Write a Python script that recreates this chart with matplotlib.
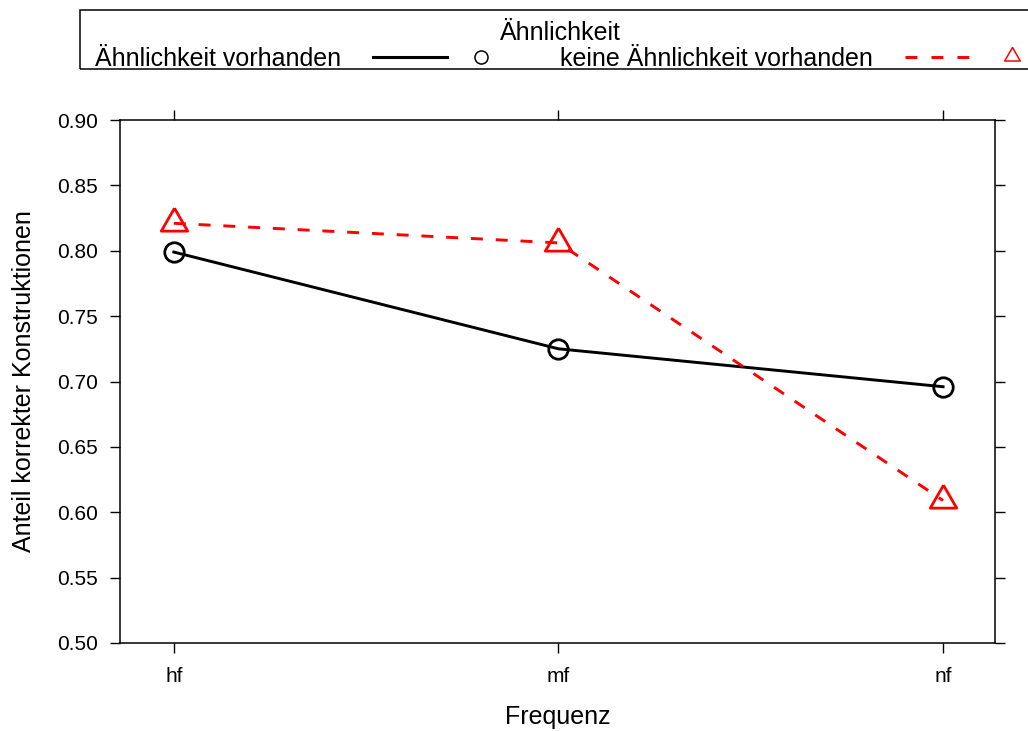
import matplotlib
matplotlib.use('Agg')
import matplotlib.pyplot as plt
from matplotlib.lines import Line2D

plt.rcParams['font.family'] = ['Liberation Sans', 'DejaVu Sans']

categories = ['hf', 'mf', 'nf']
similar = [0.799, 0.725, 0.696]        # Ähnlichkeit vorhanden
not_similar = [0.821, 0.806, 0.609]    # keine Ähnlichkeit vorhanden
yticks = [0.50, 0.55, 0.60, 0.65, 0.70, 0.75, 0.80, 0.85, 0.90]

# equilateral triangle like lattice pch=2
tri = [(0, 1), (-0.866, -0.5), (0.866, -0.5), (0, 1)]

fig = plt.figure(figsize=(10.28, 7.31), dpi=100)
ax = fig.add_axes([120 / 1028, 1 - 643 / 731, 875 / 1028, 523 / 731])

x = list(range(len(categories)))
ax.plot(x, similar, color='black', lw=2.1, marker='o', ms=14,
        mfc='none', mec='black', mew=2.0)
ax.plot(x, not_similar, color='red', lw=2.1, ls=(0, (4.1, 4.4)), dash_capstyle='butt',
        marker=tri, ms=22, mfc='none', mec='red', mew=2.0)

ax.set_xlim(-0.14, 2.135)
ax.set_ylim(0.50, 0.90)
ax.set_xticks(x)
ax.set_xticklabels(categories)
ax.set_yticks(yticks)
ax.set_yticklabels([f'{v:.2f}' for v in yticks])
ax.tick_params(axis='both', direction='out', length=7.2, width=1, labelsize=15, pad=9)
ax.tick_params(axis='x', pad=10)
ax.tick_params(axis='x', top=True)
ax.tick_params(axis='y', right=True)
for s in ax.spines.values():
    s.set_linewidth(1.1)

ax.set_xlabel('Frequenz', fontsize=18, labelpad=14)
ax.set_ylabel('Anteil korrekter Konstruktionen', fontsize=18, labelpad=15)

# legend box on top, drawn lattice style
W, H = 1028, 731
def fx(px):
    return px / W
def fy(py):
    return 1 - py / H

box = plt.Rectangle((fx(80), fy(69)), fx(1040) - fx(80), fy(10) - fy(69),
                    transform=fig.transFigure, fill=False, lw=1.1, ec='black',
                    clip_on=False)
fig.add_artist(box)
fig.text(fx(560), fy(33), 'Ähnlichkeit', ha='center', va='center', fontsize=18)
fig.text(fx(95), fy(59), 'Ähnlichkeit vorhanden', ha='left', va='center', fontsize=18)
fig.add_artist(Line2D([fx(373), fx(447)], [fy(57), fy(57)], color='black', lw=2.2,
                      transform=fig.transFigure))
fig.add_artist(Line2D([fx(481)], [fy(57)], marker='o', ms=9.4, mfc='none', mec='black',
                      mew=1.1, transform=fig.transFigure))
fig.text(fx(560), fy(59), 'keine Ähnlichkeit vorhanden', ha='left', va='center', fontsize=18)
fig.add_artist(Line2D([fx(905), fx(969)], [fy(57), fy(57)], color='red', lw=2.2,
                      ls=(0, (3.9, 4.6)), dash_capstyle='butt', transform=fig.transFigure))
fig.add_artist(Line2D([fx(1012)], [fy(56)], marker=tri, ms=13, mfc='none', mec='red',
                      mew=1.1, transform=fig.transFigure))

fig.savefig('out.png', dpi=100)
